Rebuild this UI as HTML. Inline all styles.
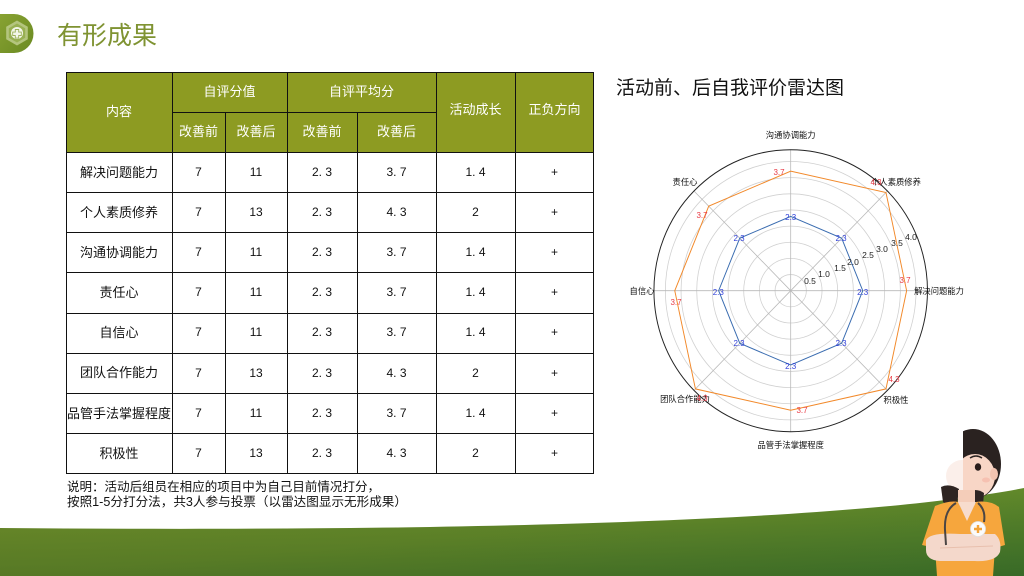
<!DOCTYPE html>
<html><head><meta charset="utf-8">
<style>
html,body{margin:0;padding:0;background:#fff;}
svg{display:block;}
text{font-family:"Liberation Sans","Noto Sans CJK SC",sans-serif;}
.cj{font-family:"Liberation Sans","Noto Sans CJK SC",sans-serif;}
.dv{font-family:"DejaVu Sans","Liberation Sans",sans-serif;}
</style></head>
<body>
<svg width="1024" height="576" viewBox="0 0 1024 576" xmlns="http://www.w3.org/2000/svg">
<defs>
  <linearGradient id="wave" x1="0" y1="0" x2="1" y2="1">
    <stop offset="0" stop-color="#718f2a"/>
    <stop offset="0.5" stop-color="#62892a"/>
    <stop offset="1" stop-color="#3f782c"/>
  </linearGradient>
  <linearGradient id="waveV" x1="0" y1="0" x2="0" y2="1">
    <stop offset="0" stop-color="#000" stop-opacity="0"/>
    <stop offset="1" stop-color="#000" stop-opacity="0.12"/>
  </linearGradient>
  <linearGradient id="pill" x1="0" y1="0" x2="1" y2="1">
    <stop offset="0" stop-color="#88a232"/>
    <stop offset="1" stop-color="#6a8a22"/>
  </linearGradient>
  <clipPath id="headclip"><rect x="963" y="420" width="61" height="90"/></clipPath>
</defs>

<!-- bottom wave -->
<path d="M0,528 C450,532 850,522 1024,488 L1024,576 L0,576 Z" fill="url(#wave)"/>
<path d="M0,528 C450,532 850,522 1024,488 L1024,576 L0,576 Z" fill="url(#waveV)"/>

<!-- top-left icon -->
<path d="M0,14 H14 A19.5,19.5 0 0 1 14,53 H0 Z" fill="url(#pill)"/>
<polygon points="17,20.5 27.8,26.8 27.8,39.2 17,45.5 6.2,39.2 6.2,26.8" fill="#b4c57e"/>
<polygon points="17,23.5 25.2,28.3 25.2,37.7 17,42.5 8.8,37.7 8.8,28.3" fill="#98b052"/>
<circle cx="17" cy="33" r="6" fill="#f3f6e8"/>
<path d="M15.3,29.5 h3.4 v2.6 h2.6 v3.4 h-2.6 v2.6 h-3.4 v-2.6 h-2.6 v-3.4 h2.6 Z" fill="none" stroke="#9cb25a" stroke-width="0.9"/>

<!-- title -->
<text x="57" y="44" font-size="25" fill="#7f9332" class="cj">有形成果</text>

<!-- table header -->
<rect x="66" y="72" width="528" height="80" fill="#8d9b22"/>
<g stroke="#111" stroke-width="1" fill="none">
  <line x1="66" y1="72.5" x2="594" y2="72.5"/>
  <line x1="172" y1="112.5" x2="436" y2="112.5"/>
  <line x1="66" y1="152.5" x2="594" y2="152.5"/>
  <line x1="66" y1="192.5" x2="594" y2="192.5"/>
  <line x1="66" y1="232.5" x2="594" y2="232.5"/>
  <line x1="66" y1="272.5" x2="594" y2="272.5"/>
  <line x1="66" y1="313.5" x2="594" y2="313.5"/>
  <line x1="66" y1="353.5" x2="594" y2="353.5"/>
  <line x1="66" y1="393.5" x2="594" y2="393.5"/>
  <line x1="66" y1="433.5" x2="594" y2="433.5"/>
  <line x1="66" y1="473.5" x2="594" y2="473.5"/>
  <line x1="66.5" y1="72" x2="66.5" y2="474"/>
  <line x1="593.5" y1="72" x2="593.5" y2="474"/>
  <line x1="172.5" y1="72" x2="172.5" y2="474"/>
  <line x1="225.5" y1="112" x2="225.5" y2="474"/>
  <line x1="287.5" y1="72" x2="287.5" y2="474"/>
  <line x1="357.5" y1="112" x2="357.5" y2="474"/>
  <line x1="436.5" y1="72" x2="436.5" y2="474"/>
  <line x1="515.5" y1="72" x2="515.5" y2="474"/>
</g>
<g fill="#fff" font-size="13" text-anchor="middle" class="cj">
  <text x="119" y="116">内容</text>
  <text x="229.5" y="96">自评分值</text>
  <text x="361.5" y="96">自评平均分</text>
  <text x="198.5" y="136">改善前</text>
  <text x="256" y="136">改善后</text>
  <text x="322" y="136">改善前</text>
  <text x="396.5" y="136">改善后</text>
  <text x="475.5" y="114">活动成长</text>
  <text x="554.5" y="114">正负方向</text>
</g>
<g fill="#111" font-size="13" text-anchor="middle" class="cj">
  <text x="119" y="177">解决问题能力</text>
  <text x="119" y="217">个人素质修养</text>
  <text x="119" y="257">沟通协调能力</text>
  <text x="119" y="297">责任心</text>
  <text x="119" y="337">自信心</text>
  <text x="119" y="377">团队合作能力</text>
  <text x="119" y="418">品管手法掌握程度</text>
  <text x="119" y="458">积极性</text>
</g>
<g fill="#111" font-size="12" text-anchor="middle">
  <text x="198.5" y="176">7</text><text x="256" y="176">11</text><text x="322" y="176" xml:space="preserve">2. 3</text><text x="396.5" y="176" xml:space="preserve">3. 7</text><text x="475.5" y="176" xml:space="preserve">1. 4</text><text x="554.5" y="176">+</text>
  <text x="198.5" y="216">7</text><text x="256" y="216">13</text><text x="322" y="216" xml:space="preserve">2. 3</text><text x="396.5" y="216" xml:space="preserve">4. 3</text><text x="475.5" y="216">2</text><text x="554.5" y="216">+</text>
  <text x="198.5" y="256">7</text><text x="256" y="256">11</text><text x="322" y="256" xml:space="preserve">2. 3</text><text x="396.5" y="256" xml:space="preserve">3. 7</text><text x="475.5" y="256" xml:space="preserve">1. 4</text><text x="554.5" y="256">+</text>
  <text x="198.5" y="296">7</text><text x="256" y="296">11</text><text x="322" y="296" xml:space="preserve">2. 3</text><text x="396.5" y="296" xml:space="preserve">3. 7</text><text x="475.5" y="296" xml:space="preserve">1. 4</text><text x="554.5" y="296">+</text>
  <text x="198.5" y="336">7</text><text x="256" y="336">11</text><text x="322" y="336" xml:space="preserve">2. 3</text><text x="396.5" y="336" xml:space="preserve">3. 7</text><text x="475.5" y="336" xml:space="preserve">1. 4</text><text x="554.5" y="336">+</text>
  <text x="198.5" y="377">7</text><text x="256" y="377">13</text><text x="322" y="377" xml:space="preserve">2. 3</text><text x="396.5" y="377" xml:space="preserve">4. 3</text><text x="475.5" y="377">2</text><text x="554.5" y="377">+</text>
  <text x="198.5" y="417">7</text><text x="256" y="417">11</text><text x="322" y="417" xml:space="preserve">2. 3</text><text x="396.5" y="417" xml:space="preserve">3. 7</text><text x="475.5" y="417" xml:space="preserve">1. 4</text><text x="554.5" y="417">+</text>
  <text x="198.5" y="457">7</text><text x="256" y="457">13</text><text x="322" y="457" xml:space="preserve">2. 3</text><text x="396.5" y="457" xml:space="preserve">4. 3</text><text x="475.5" y="457">2</text><text x="554.5" y="457">+</text>
</g>

<!-- notes -->
<g fill="#111" font-size="12.5" class="cj">
  <text x="67" y="491" textLength="313" lengthAdjust="spacing">说明：活动后组员在相应的项目中为自己目前情况打分，</text>
  <text x="67" y="506" textLength="340" lengthAdjust="spacingAndGlyphs">按照1-5分打分法，共3人参与投票（以雷达图显示无形成果）</text>
</g>

<!-- radar title -->
<text x="616" y="94" font-size="19" fill="#111" class="cj">活动前、后自我评价雷达图</text>

<!-- radar -->
<g transform="translate(790.7,290.7) scale(0.97,1)">
  <g fill="none" stroke="#d0d0d0" stroke-width="0.8">
    <circle r="16.15"/><circle r="32.3"/><circle r="48.45"/><circle r="64.6"/>
    <circle r="80.75"/><circle r="96.9"/><circle r="113.05"/><circle r="129.2"/>
  </g>
  <g stroke="#b8b8b8" stroke-width="0.8">
    <line x1="0" y1="0" x2="141" y2="0"/>
    <line x1="0" y1="0" x2="99.7" y2="-99.7"/>
    <line x1="0" y1="0" x2="0" y2="-141"/>
    <line x1="0" y1="0" x2="-99.7" y2="-99.7"/>
    <line x1="0" y1="0" x2="-141" y2="0"/>
    <line x1="0" y1="0" x2="-99.7" y2="99.7"/>
    <line x1="0" y1="0" x2="0" y2="141"/>
    <line x1="0" y1="0" x2="99.7" y2="99.7"/>
  </g>
  <circle r="141" fill="none" stroke="#222" stroke-width="1"/>
  <polygon points="74.29,0 52.53,-52.53 0,-74.29 -52.53,-52.53 -74.29,0 -52.53,52.53 0,74.29 52.53,52.53" fill="none" stroke="#3a6cb0" stroke-width="1"/>
  <polygon points="119.51,0 98.21,-98.21 0,-119.51 -84.51,-84.51 -119.51,0 -98.21,98.21 0,119.51 98.21,98.21" fill="none" stroke="#f2892a" stroke-width="1"/>
</g>
<!-- radial tick labels -->
<g font-size="8.5" fill="#222" text-anchor="middle" class="dv">
  <text x="810" y="284">0.5</text>
  <text x="824" y="277">1.0</text>
  <text x="840" y="271">1.5</text>
  <text x="853" y="265">2.0</text>
  <text x="868" y="258">2.5</text>
  <text x="882" y="252">3.0</text>
  <text x="897" y="246">3.5</text>
  <text x="911" y="240">4.0</text>
</g>
<!-- category labels -->
<g font-size="8.3" fill="#111" text-anchor="middle" class="cj">
  <text x="790.7" y="138">沟通协调能力</text>
  <text x="896" y="185">个人素质修养</text>
  <text x="685" y="185">责任心</text>
  <text x="939" y="294">解决问题能力</text>
  <text x="642" y="294">自信心</text>
  <text x="896" y="403">积极性</text>
  <text x="685" y="402">团队合作能力</text>
  <text x="790.7" y="448">品管手法掌握程度</text>
</g>
<!-- value labels -->
<g font-size="8" fill="#e83a44" text-anchor="middle" class="dv">
  <text x="779" y="175">3.7</text>
  <text x="876" y="185">4.3</text>
  <text x="702" y="218">3.7</text>
  <text x="905" y="283">3.7</text>
  <text x="676" y="305">3.7</text>
  <text x="894" y="382">4.3</text>
  <text x="702" y="401">4.3</text>
  <text x="802" y="413">3.7</text>
</g>
<g font-size="8" fill="#3040d8" text-anchor="middle" class="dv">
  <text x="790.7" y="220">2.3</text>
  <text x="841" y="241">2.3</text>
  <text x="739" y="241">2.3</text>
  <text x="862.7" y="295">2.3</text>
  <text x="718.3" y="295">2.3</text>
  <text x="841" y="346">2.3</text>
  <text x="739" y="346">2.3</text>
  <text x="790.7" y="369">2.3</text>
</g>

<!-- nurse character -->
<g>
  <!-- washed-out left face -->
  <ellipse cx="962" cy="476" rx="16" ry="16" fill="#fbefea"/>
  <g clip-path="url(#headclip)">
    <ellipse cx="973" cy="464" rx="28" ry="35" fill="#2a2220"/>
    <ellipse cx="975" cy="476" rx="20" ry="22" fill="#f8d6c6"/>
    <ellipse cx="994" cy="474" rx="4" ry="6" fill="#f3c4b0"/>
    <ellipse cx="978" cy="467" rx="3.2" ry="3.8" fill="#2a1e1c"/>
    <path d="M970,458 q6,-4 12,0" stroke="#2a2220" stroke-width="1.5" fill="none"/>
    <ellipse cx="986" cy="480" rx="4" ry="2.5" fill="#f5b8a8" opacity="0.7"/>
  </g>
  <!-- braids -->
  <path d="M941,487 q8,-4 18,2 l-2,16 q-8,2 -14,-3 Z" fill="#2e2523"/>
  <path d="M975,490 q5,0 9,3 l-1,12 q-5,1 -8,-3 Z" fill="#2e2523"/>
  <!-- neck -->
  <rect x="958" y="490" width="17" height="16" fill="#f4cdb9"/>
  <!-- scrubs -->
  <path d="M935,506 Q950,500 958,502 L967,520 L976,502 Q990,500 999,507 L1005,545 L995,548 L993,576 L937,576 L935,548 L922,545 Z" fill="#f6a63d"/>
  <path d="M958,502 L967,521 L976,502 Z" fill="#f7dccd"/>
  <!-- arms -->
  <path d="M926,540 Q930,532 960,534 L995,534 Q1002,540 1000,552 Q996,562 975,561 L940,561 Q926,560 926,550 Z" fill="#f4d8cb"/>
  <path d="M940,548 L993,546" stroke="#e8c0ae" stroke-width="1"/>
  <!-- stethoscope -->
  <path d="M956,503 Q944,510 945,530 L946,545" stroke="#4a4544" stroke-width="2" fill="none"/>
  <path d="M978,503 Q986,510 984,522" stroke="#4a4544" stroke-width="2" fill="none"/>
  <!-- badge -->
  <circle cx="978" cy="529" r="7.5" fill="#fbfbfb" stroke="#e0e0e0" stroke-width="0.8"/>
  <path d="M976.8,525 h2.4 v2.8 h2.8 v2.4 h-2.8 v2.8 h-2.4 v-2.8 h-2.8 v-2.4 h2.8 Z" fill="#f3a43a"/>
</g>
</svg>
</body></html>
